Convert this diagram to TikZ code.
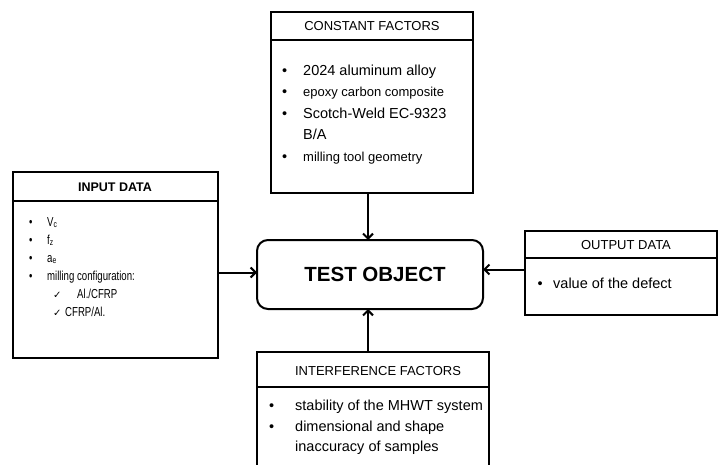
\documentclass[tikz,border=0pt]{standalone}
\usepackage{fontspec}
\setmainfont{Liberation Sans}
\newfontfamily\symfont{DejaVu Sans}
\usetikzlibrary{arrows.meta, positioning, calc}
\newcommand{\bul}[1]{\makebox[#1][l]{\textbullet}}
\newcommand{\chk}[1]{\makebox[#1][l]{\symfont\fontsize{10}{10}\selectfont ✓}}

\begin{document}
\begin{tikzpicture}[x=1pt, y=-1pt,
    box/.style={rectangle, draw, line width=2.2pt, outer sep=0pt, inner sep=0pt, anchor=north west},
    testbox/.style={rectangle, rounded corners=11pt, draw, line width=2pt, outer sep=0pt,
                    minimum width=226pt, minimum height=69pt, font=\fontsize{20.5}{24}\selectfont\bfseries},
    head/.style={font=\fontsize{13}{15}\selectfont},
    list/.style={anchor=north west, inner sep=0pt, align=left},
    sep/.style={line width=2pt},
    arr/.style={-{Straight Barb[length=5pt, width=10pt]}, line width=2pt}
]
\useasboundingbox (0,0) rectangle (720,465);
\clip (0,0) rectangle (720,465);
\fill[white] (0,0) rectangle (720,465);

% boxes
\node[box, minimum width=202pt, minimum height=181pt] (const) at (271,12) {};
\node[box, minimum width=205pt, minimum height=186pt] (input) at (13,172) {};
\node[box, minimum width=192pt, minimum height=84pt] (output) at (525,231) {};
\node[box, minimum width=232pt, minimum height=128pt] (inter) at (257,352) {};
\node[testbox] (test) at (370,274.5) {\hspace*{10pt}TEST OBJECT};

% header lines
\draw[sep] ([yshift=-28pt]const.north west) -- ([yshift=-28pt]const.north east);
\draw[sep] ([yshift=-29pt]input.north west) -- ([yshift=-29pt]input.north east);
\draw[sep] ([yshift=-27pt]output.north west) -- ([yshift=-27pt]output.north east);
\draw[sep] ([yshift=-35pt]inter.north west) -- ([yshift=-35pt]inter.north east);

% headers
\node[head] (consthead) at (372,26) {CONSTANT FACTORS};
\node[head, font=\fontsize{12.5}{15}\selectfont\bfseries] (inputhead) at (115,187) {INPUT DATA};
\node[head] (outputhead) at (626,245) {OUTPUT DATA};
\node[head] (interhead) at (378,371) {INTERFERENCE FACTORS};

% lists
\node[list, font=\fontsize{14.5}{21.5}\selectfont] (constlist) at (282,64.5) {%
  \bul{21pt}2024 aluminum alloy\\
  \bul{21pt}{\fontsize{13}{21.5}\selectfont epoxy carbon composite}\\
  \bul{21pt}Scotch-Weld EC-9323\\
  \hspace*{21pt}B/A\\
  \bul{21pt}{\fontsize{13}{21.5}\selectfont milling tool geometry}};
\node[list, font=\fontsize{13}{18}\selectfont\addfontfeature{FakeStretch=0.74}] (inputlist) at (29,217) {%
  \bul{18pt}V\textsubscript{c}\\
  \bul{18pt}f\textsubscript{z}\\
  \bul{18pt}a\textsubscript{e}\\
  \bul{18pt}milling configuration:\\
  \hspace*{24pt}\chk{24pt}Al./CFRP\\
  \hspace*{24pt}\chk{12pt}CFRP/Al.};
\node[list, font=\fontsize{14.5}{20.5}\selectfont] (outputlist) at (537.5,277.5) {%
  \bul{15.5pt}value of the defect};
\node[list, font=\fontsize{14.5}{20.5}\selectfont] (interlist) at (269,400) {%
  \bul{26pt}stability of the MHWT system\\
  \bul{26pt}dimensional and shape\\
  \hspace*{26pt}inaccuracy of samples};

% arrows
\draw[arr] ([xshift=-4pt]const.south) -- ([xshift=-4pt]const.south |- test.north);
\draw[arr] ([yshift=2pt]test.west -| input.east) -- ([yshift=2pt]test.west);
\draw[arr] ([yshift=5pt]test.east -| output.west) -- ([yshift=5pt]test.east);
\draw[arr] ([xshift=-2pt]test.south |- inter.north) -- ([xshift=-2pt]test.south);
\end{tikzpicture}
\end{document}
